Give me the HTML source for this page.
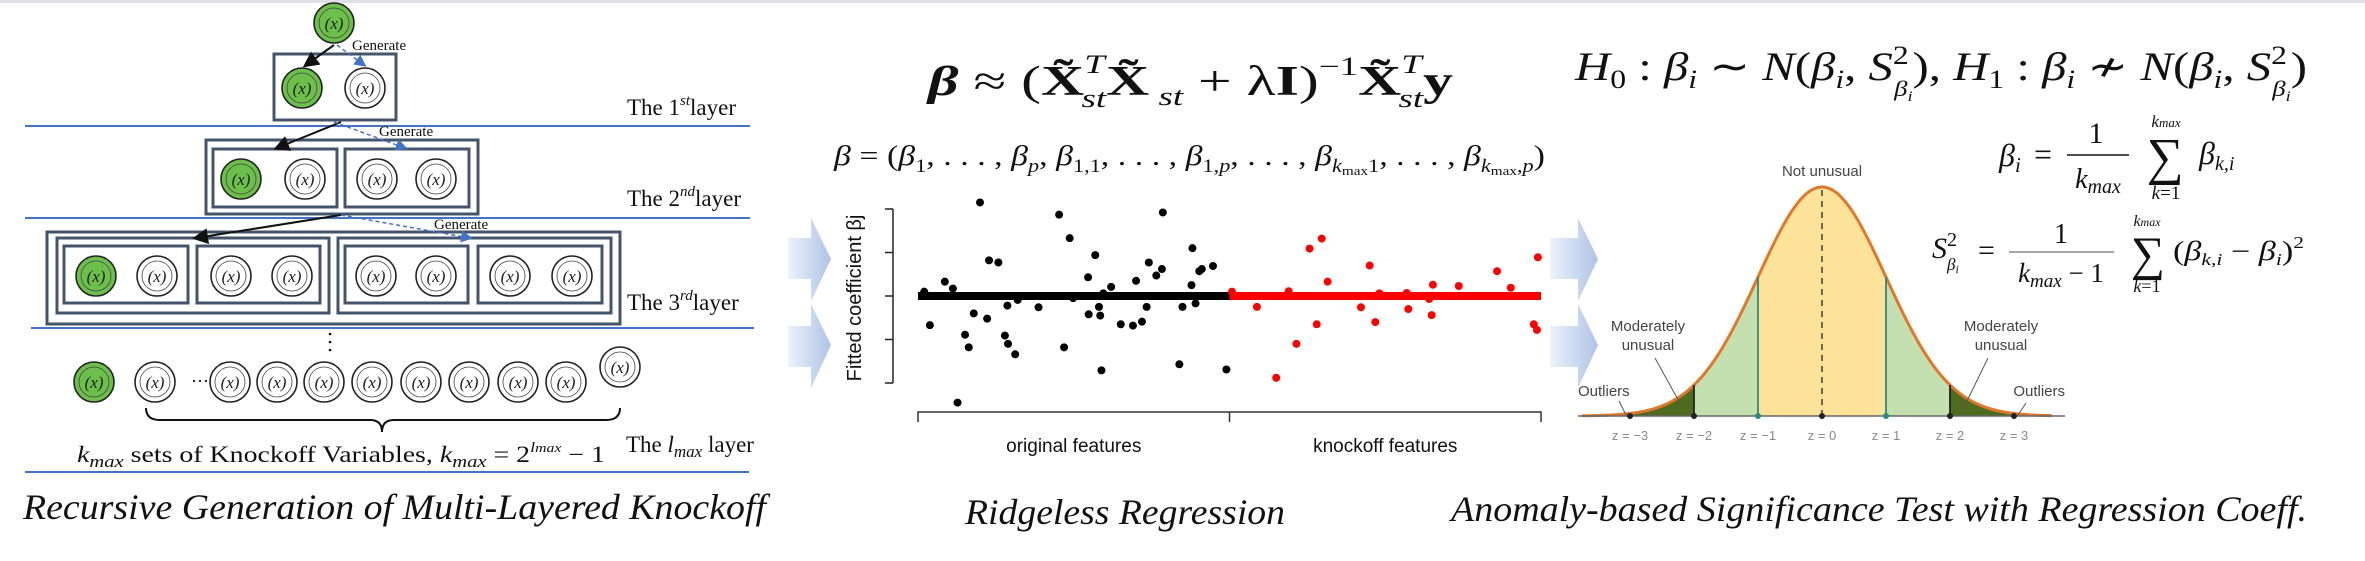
<!DOCTYPE html>
<html><head><meta charset="utf-8"><style>
html,body{margin:0;padding:0;background:#fff;}
svg{display:block;}
.serif{font-family:"Liberation Serif",serif;}
.sans{font-family:"Liberation Sans",sans-serif;}
</style></head><body>
<svg id="root" width="2365" height="561" viewBox="0 0 2365 561" xmlns="http://www.w3.org/2000/svg">
<defs>
<linearGradient id="arrowGrad" x1="0" x2="1" y1="0" y2="0"><stop offset="0" stop-color="#eef2fa"/><stop offset="1" stop-color="#aec3e6"/></linearGradient>
<marker id="ahBlack" markerWidth="8" markerHeight="8" refX="6" refY="4" orient="auto"><path d="M0,0 L8,4 L0,8 z" fill="#111"/></marker>
<marker id="ahBlue" markerWidth="8" markerHeight="8" refX="6" refY="4" orient="auto"><path d="M0,0 L8,4 L0,8 z" fill="#4472c4"/></marker>
</defs>
<rect x="0" y="0" width="2365" height="3" fill="#dde1e6"/>

<!-- Panel 1 -->
<g id="panel1">
  <g stroke="#4472c4" stroke-width="2">
    <line x1="25" y1="126" x2="750" y2="126"/>
    <line x1="25" y1="218" x2="750" y2="218"/>
    <line x1="31" y1="328" x2="754" y2="328"/>
    <line x1="25" y1="472" x2="749" y2="472"/>
  </g>
  <g fill="none" stroke="#44546a" stroke-width="3">
    <rect x="274" y="54" width="122" height="66"/>
    <rect x="206" y="140" width="272" height="74"/>
    <rect x="213" y="149" width="124" height="58"/>
    <rect x="345" y="149" width="124" height="58"/>
    <rect x="47" y="232" width="573" height="92"/>
    <rect x="57" y="238" width="272" height="75"/>
    <rect x="338" y="238" width="273" height="75"/>
    <rect x="64" y="246" width="124" height="57"/>
    <rect x="197" y="246" width="123" height="57"/>
    <rect x="345" y="246" width="123" height="57"/>
    <rect x="478" y="246" width="124" height="57"/>
  </g>
  <g>
    <line x1="334" y1="45" x2="306" y2="65" stroke="#111" stroke-width="2" marker-end="url(#ahBlack)"/>
    <line x1="337" y1="45" x2="364" y2="65" stroke="#4472c4" stroke-width="1.5" stroke-dasharray="4,3" marker-end="url(#ahBlue)"/>
    <line x1="341" y1="122" x2="277" y2="148" stroke="#111" stroke-width="2" marker-end="url(#ahBlack)"/>
    <line x1="334" y1="122" x2="405" y2="148" stroke="#4472c4" stroke-width="1.5" stroke-dasharray="4,3" marker-end="url(#ahBlue)"/>
    <line x1="341" y1="215" x2="196" y2="238" stroke="#111" stroke-width="2" marker-end="url(#ahBlack)"/>
    <line x1="341" y1="215" x2="470" y2="238" stroke="#4472c4" stroke-width="1.5" stroke-dasharray="4,3" marker-end="url(#ahBlue)"/>
  </g>
  <g class="serif" font-size="15" fill="#111">
    <text x="352" y="50">Generate</text>
    <text x="379" y="136">Generate</text>
    <text x="434" y="229">Generate</text>
  </g>
  <g id="circles"></g>
  <text x="191" y="387" class="serif" font-size="18">···</text>
  <g fill="#111">
    <circle cx="330" cy="334" r="1.3"/><circle cx="330" cy="342" r="1.3"/><circle cx="330" cy="350" r="1.3"/>
  </g>
  <path d="M146,408 Q146,420 160,420 L370,420 Q382,420 382,432 Q382,420 394,420 L606,420 Q620,420 620,408" fill="none" stroke="#111" stroke-width="2"/>
  <g class="serif" font-size="23" fill="#111">
    <text x="627" y="115">The 1<tspan font-style="italic" font-size="15" dy="-10">st</tspan><tspan dy="10">layer</tspan></text>
    <text x="627" y="206">The 2<tspan font-style="italic" font-size="15" dy="-10">nd</tspan><tspan dy="10">layer</tspan></text>
    <text x="627" y="310">The 3<tspan font-style="italic" font-size="15" dy="-10">rd</tspan><tspan dy="10">layer</tspan></text>
    <text x="626" y="452">The <tspan font-style="italic">l</tspan><tspan font-style="italic" font-size="17" dy="5">max</tspan><tspan dy="-5"> layer</tspan></text>
    <text x="77" y="462" textLength="528" lengthAdjust="spacingAndGlyphs"><tspan font-style="italic">k</tspan><tspan font-style="italic" font-size="17" dy="5">max</tspan><tspan dy="-5"> sets of Knockoff Variables, </tspan><tspan font-style="italic">k</tspan><tspan font-style="italic" font-size="17" dy="5">max</tspan><tspan dy="-5"> = 2</tspan><tspan font-style="italic" font-size="15" dy="-10">l</tspan><tspan font-style="italic" font-size="13">max</tspan><tspan dy="10"> − 1</tspan></text>
  </g>
  <text x="23" y="519" class="serif" font-style="italic" font-size="36" textLength="743" lengthAdjust="spacingAndGlyphs" fill="#111">Recursive Generation of Multi-Layered Knockoff</text>
</g>

<!-- Flow arrows -->
<g fill="url(#arrowGrad)">
  <path d="M788,238 L811,238 L811,218 L831,259 L811,301 L811,279 L788,279 z"/>
  <path d="M788,326 L811,326 L811,304 L831,345 L811,388 L811,367 L788,367 z"/>
  <path d="M1550,238 L1578,238 L1578,218 L1598,259 L1578,301 L1578,279 L1550,279 z"/>
  <path d="M1550,326 L1578,326 L1578,304 L1598,345 L1578,388 L1578,367 L1550,367 z"/>
</g>

<!-- Panel 2 -->
<g id="panel2">
  <text x="928" y="95" class="serif" font-size="42" textLength="525" lengthAdjust="spacingAndGlyphs" fill="#111"><tspan font-style="italic" font-weight="bold">β</tspan> ≈ (<tspan font-weight="bold">X̃</tspan><tspan font-style="italic" font-size="26" dy="-22">T</tspan><tspan font-style="italic" font-size="26" dx="-14" dy="34">st</tspan><tspan font-weight="bold" dy="-12">X̃</tspan><tspan font-style="italic" font-size="26" dy="10"> st</tspan><tspan dy="-10"> + λ</tspan><tspan font-weight="bold">I</tspan>)<tspan font-size="26" dy="-20">−1</tspan><tspan font-weight="bold" dy="20">X̃</tspan><tspan font-style="italic" font-size="26" dy="-22">T</tspan><tspan font-style="italic" font-size="26" dx="-14" dy="34">st</tspan><tspan font-weight="bold" dy="-12">y</tspan></text>
  <text x="834" y="165" class="serif" font-size="29" textLength="711" lengthAdjust="spacingAndGlyphs" fill="#111"><tspan font-style="italic">β</tspan> = (<tspan font-style="italic">β</tspan><tspan font-size="19" dy="7">1</tspan><tspan dy="-7">, . . . , </tspan><tspan font-style="italic">β</tspan><tspan font-size="19" font-style="italic" dy="7">p</tspan><tspan dy="-7">, </tspan><tspan font-style="italic">β</tspan><tspan font-size="19" dy="7">1,1</tspan><tspan dy="-7">, . . . , </tspan><tspan font-style="italic">β</tspan><tspan font-size="19" dy="7">1,<tspan font-style="italic">p</tspan></tspan><tspan dy="-7">, . . . , </tspan><tspan font-style="italic">β</tspan><tspan font-size="19" font-style="italic" dy="7">k</tspan><tspan font-size="13" dy="3">max</tspan><tspan font-size="19" dy="-3">1</tspan><tspan dy="-7">, . . . , </tspan><tspan font-style="italic">β</tspan><tspan font-size="19" font-style="italic" dy="7">k</tspan><tspan font-size="13" dy="3">max</tspan><tspan font-size="19" dy="-3">,<tspan font-style="italic">p</tspan></tspan><tspan dy="-7">)</tspan></text>
  <g id="scatter"></g>
  <text x="965" y="524" class="serif" font-style="italic" font-size="36" textLength="320" lengthAdjust="spacingAndGlyphs" fill="#111">Ridgeless Regression</text>
</g>

<!-- Panel 3 -->
<g id="panel3">
  <text x="1575" y="80" class="serif" font-size="40" textLength="732" lengthAdjust="spacingAndGlyphs" fill="#111"><tspan font-style="italic">H</tspan><tspan font-size="26" dy="8">0</tspan><tspan dy="-8"> : </tspan><tspan font-style="italic">β</tspan><tspan font-style="italic" font-size="26" dy="8">i</tspan><tspan dy="-8"> ∼ </tspan><tspan font-style="italic">N</tspan>(<tspan font-style="italic">β</tspan><tspan font-style="italic" font-size="26" dy="8">i</tspan><tspan dy="-8">, </tspan><tspan font-style="italic">S</tspan><tspan font-size="26" dy="-16">2</tspan><tspan font-style="italic" font-size="22" dx="-12" dy="32">β</tspan><tspan font-style="italic" font-size="15" dy="5">i</tspan><tspan dy="-21">),     </tspan><tspan font-style="italic">H</tspan><tspan font-size="26" dy="8">1</tspan><tspan dy="-8"> : </tspan><tspan font-style="italic">β</tspan><tspan font-style="italic" font-size="26" dy="8">i</tspan><tspan dy="-8"> ≁ </tspan><tspan font-style="italic">N</tspan>(<tspan font-style="italic">β</tspan><tspan font-style="italic" font-size="26" dy="8">i</tspan><tspan dy="-8">, </tspan><tspan font-style="italic">S</tspan><tspan font-size="26" dy="-16">2</tspan><tspan font-style="italic" font-size="22" dx="-12" dy="32">β</tspan><tspan font-style="italic" font-size="15" dy="5">i</tspan><tspan dy="-21">)</tspan></text>
  <g class="serif" fill="#111">
    <text x="1999" y="166" font-size="32" font-style="italic">β<tspan font-size="21" dy="6">i</tspan></text>
    <text x="2034" y="165" font-size="32">=</text>
    <text x="2096" y="143" font-size="30" text-anchor="middle">1</text>
    <line x1="2067" y1="155" x2="2129" y2="155" stroke="#111" stroke-width="1.5"/>
    <text x="2098" y="188" font-size="28" font-style="italic" text-anchor="middle">k<tspan font-size="20" dy="5">max</tspan></text>
    <text x="2165" y="174" font-size="52" text-anchor="middle">∑</text>
    <text x="2166" y="127" font-size="17" font-style="italic" text-anchor="middle">k<tspan font-size="13">max</tspan></text>
    <text x="2166" y="199" font-size="19" text-anchor="middle"><tspan font-style="italic">k</tspan>=1</text>
    <text x="2199" y="164" font-size="32" font-style="italic">β<tspan font-size="20" dy="6">k,i</tspan></text>
  </g>
  <g class="serif" fill="#111">
    <text x="1932" y="258" font-size="30" font-style="italic">S<tspan font-size="20" font-style="normal" dy="-12">2</tspan><tspan font-size="17" dx="-10" dy="24">β</tspan><tspan font-size="12" dy="3">i</tspan></text>
    <text x="1978" y="260" font-size="30">=</text>
    <text x="2061" y="243" font-size="28" text-anchor="middle">1</text>
    <line x1="2009" y1="252" x2="2114" y2="252" stroke="#888" stroke-width="1.5"/>
    <text x="2061" y="282" font-size="27" text-anchor="middle"><tspan font-style="italic">k</tspan><tspan font-style="italic" font-size="19" dy="5">max</tspan><tspan dy="-5"> − 1</tspan></text>
    <text x="2148" y="270" font-size="48" text-anchor="middle">∑</text>
    <text x="2147" y="226" font-size="16" font-style="italic" text-anchor="middle">k<tspan font-size="12">max</tspan></text>
    <text x="2147" y="292" font-size="18" text-anchor="middle"><tspan font-style="italic">k</tspan>=1</text>
    <text x="2173" y="260" font-size="27" textLength="131" lengthAdjust="spacingAndGlyphs">(<tspan font-style="italic">β</tspan><tspan font-style="italic" font-size="17" dy="5">k,i</tspan><tspan dy="-5"> − </tspan><tspan font-style="italic">β</tspan><tspan font-style="italic" font-size="17" dy="5">i</tspan><tspan dy="-5">)</tspan><tspan font-size="17" dy="-12">2</tspan></text>
  </g>
  <g id="bell"></g>
  <text x="1451" y="521" class="serif" font-style="italic" font-size="36" textLength="856" lengthAdjust="spacingAndGlyphs" fill="#111">Anomaly-based Significance Test with Regression Coeff.</text>
</g>
</svg>
<script>
const NS='http://www.w3.org/2000/svg';
function mk(tag,attrs,parent){const e=document.createElementNS(NS,tag);for(const k in attrs)e.setAttribute(k,attrs[k]);parent.appendChild(e);return e;}

// ---- Knockoff circles ----
const circleXs=[334,302,365,241,305,377,436,96,157,231,292,376,436,510,572,94,155,230,277,324,372,421,469,518,566,620];
const circleYs=[23,88,88,179,179,179,179,276,276,276,276,276,276,276,276,382,382,382,382,382,382,382,382,382,382,367];
const circleGreen=[1,1,0,1,0,0,0,1,0,0,0,0,0,0,0,1,0,0,0,0,0,0,0,0,0,0];
const cg=document.getElementById('circles');
for(let i=0;i<circleXs.length;i++){
  const g=mk('g',{},cg);
  
  
  mk('circle',{cx:circleXs[i],cy:circleYs[i],r:20,fill:circleGreen[i]?'#6cbf4a':'#fff',stroke:'#222','stroke-width':1.6},g);
  mk('circle',{cx:circleXs[i],cy:circleYs[i],r:15,fill:'none',stroke:'#444','stroke-width':0.8},g);
  const t=mk('text',{x:circleXs[i],y:circleYs[i]+6,'text-anchor':'middle','font-size':17,'font-family':'"Liberation Serif",serif','font-style':'italic',fill:'#222'},g);
  t.textContent='(x)';
}

// ---- Scatter data ----
const yTicks=[-2,-1,0,1,2];
const groupLabels=['original features','knockoff features'];
const blackIdx=[2.0,3.8,8.6,11.2,12.7,15.1,16.3,17.9,19.9,22.2,22.8,25.8,28.7,27.9,28.9,31.2,32.0,38.7,45.3,46.9,48.7,49.8,54.6,54.8,56.9,58.1,58.5,58.9,59.5,62.0,65.1,69.0,70.0,71.9,73.4,74.1,76.5,78.3,78.6,83.9,84.9,87.8,88.1,89.1,90.3,91.1,94.7,99.0];
const blackVal=[0.10,-0.67,0.33,0.17,-2.45,-0.89,-1.18,-0.40,2.15,-0.52,0.82,0.77,-0.22,-0.91,-1.10,-1.34,-0.09,-0.26,1.87,-1.18,1.33,-0.05,0.43,-0.42,0.94,-0.25,-0.45,-1.71,0.06,0.21,-0.65,-0.68,0.35,-0.59,-0.25,0.77,0.47,0.62,1.92,-1.57,-0.25,0.25,1.10,-0.17,0.57,0.62,0.69,-1.69];
const redIdx=[100.8,108.8,115.0,119.0,121.5,125.7,128.0,129.6,131.5,142.2,145.0,146.8,148.1,156.9,157.4,164.1,164.9,165.3,173.6,185.9,190.3,197.7,198.7,199.0];
const redVal=[0.10,-0.25,-1.88,0.11,-1.10,1.09,-0.65,1.32,0.33,-0.26,0.70,-0.60,0.06,0.07,-0.30,-0.07,-0.44,0.26,0.23,0.57,0.19,-0.65,-0.78,0.89];
const xMax=200, xSplit=100;
const X0=918,X1=1541,Y0=296,unit=43.5;
const xS=i=>X0+i*(X1-X0)/xMax;
const yS=v=>Y0-v*unit;
const sc=document.getElementById('scatter');
const ax=mk('line',{x1:893,x2:893,y1:yS(yTicks[yTicks.length-1]),y2:yS(yTicks[0]),stroke:'#222','stroke-width':1.5},sc);


yTicks.forEach(v=>{
  const t=mk('line',{x1:885,x2:893,y1:yS(v),y2:yS(v),stroke:'#222','stroke-width':1.5},sc);
  
  
});
const yl=mk('text',{x:0,y:0,transform:'translate(861,298) rotate(-90)','text-anchor':'middle','font-size':20,'font-family':'"Liberation Sans",sans-serif',fill:'#111'},sc);
yl.textContent='Fitted coefficient βj';


const xa=mk('path',{d:`M${xS(0)},422 L${xS(0)},412 L${xS(xMax)},412 L${xS(xMax)},422 M${xS(xSplit)},412 L${xS(xSplit)},422`,fill:'none',stroke:'#333','stroke-width':1.5},sc);


groupLabels.forEach((lab,k)=>{
  const t=mk('text',{x:xS(xSplit*(k+0.5)),y:452,'text-anchor':'middle','font-size':19,'font-family':'"Liberation Sans",sans-serif',fill:'#111'},sc);
  t.textContent=lab;
  
  
});
const zl1=mk('line',{x1:xS(0),x2:xS(xSplit),y1:yS(0),y2:yS(0),stroke:'#000','stroke-width':8},sc);


const zl2=mk('line',{x1:xS(xSplit),x2:xS(xMax),y1:yS(0),y2:yS(0),stroke:'#f00','stroke-width':8},sc);


blackIdx.forEach((i,k)=>{
  const c=mk('circle',{cx:xS(i),cy:yS(blackVal[k]),r:4,fill:'#000'},sc);
  
  
});
redIdx.forEach((i,k)=>{
  const c=mk('circle',{cx:xS(i),cy:yS(redVal[k]),r:4,fill:'#f00'},sc);
  
  
});

// ---- Bell curve ----
const zTicks=[-3,-2,-1,0,1,2,3];
const zLabels=['z = −3','z = −2','z = −1','z = 0','z = 1','z = 2','z = 3'];
const zMin=-3.75,zMax=3.6;
const BX0=1822,SIG=64,BASE=416,PEAK=229;
const bx=z=>BX0+z*SIG;
const by=z=>BASE-PEAK*Math.exp(-z*z/2);
const bell=document.getElementById('bell');
function area(a,b,color,name){
  let d=`M${bx(a)},${BASE}`;
  for(let z=a;z<=b+1e-9;z+=0.02)d+=` L${bx(z)},${by(z)}`;
  d+=` L${bx(b)},${by(b)} L${bx(b)},${BASE} Z`;
  const p=mk('path',{d:d,fill:color},bell);
  
  
}
area(zMin,-3,'#d04a25','outlier-region-left');
area(-3,-2,'#4e6b1f','moderate-region-left');
area(-2,-1,'#c4dfb0','green-region-left');
area(-1,1,'#fde39a','not-unusual-region');
area(1,2,'#c4dfb0','green-region-right');
area(2,3,'#4e6b1f','moderate-region-right');
area(3,zMax,'#d04a25','outlier-region-right');
let cd='';
for(let z=zMin;z<=zMax+1e-9;z+=0.02)cd+=(cd?' L':'M')+bx(z)+','+by(z);
const curve=mk('path',{d:cd,fill:'none',stroke:'#e0782c','stroke-width':3},bell);


const bl=mk('line',{x1:1578,x2:2065,y1:BASE,y2:BASE,stroke:'#666','stroke-width':1.5},bell);


zTicks.forEach((z,k)=>{
  const col=Math.abs(z)===1?'#2a8a80':'#222';
  if(z!==0&&Math.abs(z)<3){
    const v=mk('line',{x1:bx(z),x2:bx(z),y1:BASE,y2:by(z),stroke:col,'stroke-width':1.8},bell);
    
    
  }
  if(z===0){
    const v=mk('line',{x1:bx(0),x2:bx(0),y1:BASE,y2:by(0),stroke:'#222','stroke-width':1.3,'stroke-dasharray':'6,5'},bell);
    
    
  }
  const dot=mk('circle',{cx:bx(z),cy:BASE,r:3,fill:col},bell);
  
  
  const t=mk('text',{x:bx(z),y:440,'text-anchor':'middle','font-size':13,'font-family':'"Liberation Sans",sans-serif',fill:'#888'},bell);
  t.textContent=zLabels[k];
  
  
});
const notes=[['Not unusual',1822,176,'middle'],['Moderately',1648,331,'middle'],['unusual',1648,350,'middle'],['Moderately',2001,331,'middle'],['unusual',2001,350,'middle'],['Outliers',1578,396,'start'],['Outliers',2065,396,'end']];
notes.forEach(n=>{
  const t=mk('text',{x:n[1],y:n[2],'text-anchor':n[3],'font-size':15,'font-family':'"Liberation Sans",sans-serif',fill:'#444'},bell);
  t.textContent=n[0];
  
  
});
[[1655,358,1681,405],[1988,358,1965,405],[1619,401,1626,415],[2026,403,2018,415]].forEach(l=>{
  const e=mk('line',{x1:l[0],y1:l[1],x2:l[2],y2:l[3],stroke:'#555','stroke-width':1},bell);
  
  
});
</script>
</body></html>
